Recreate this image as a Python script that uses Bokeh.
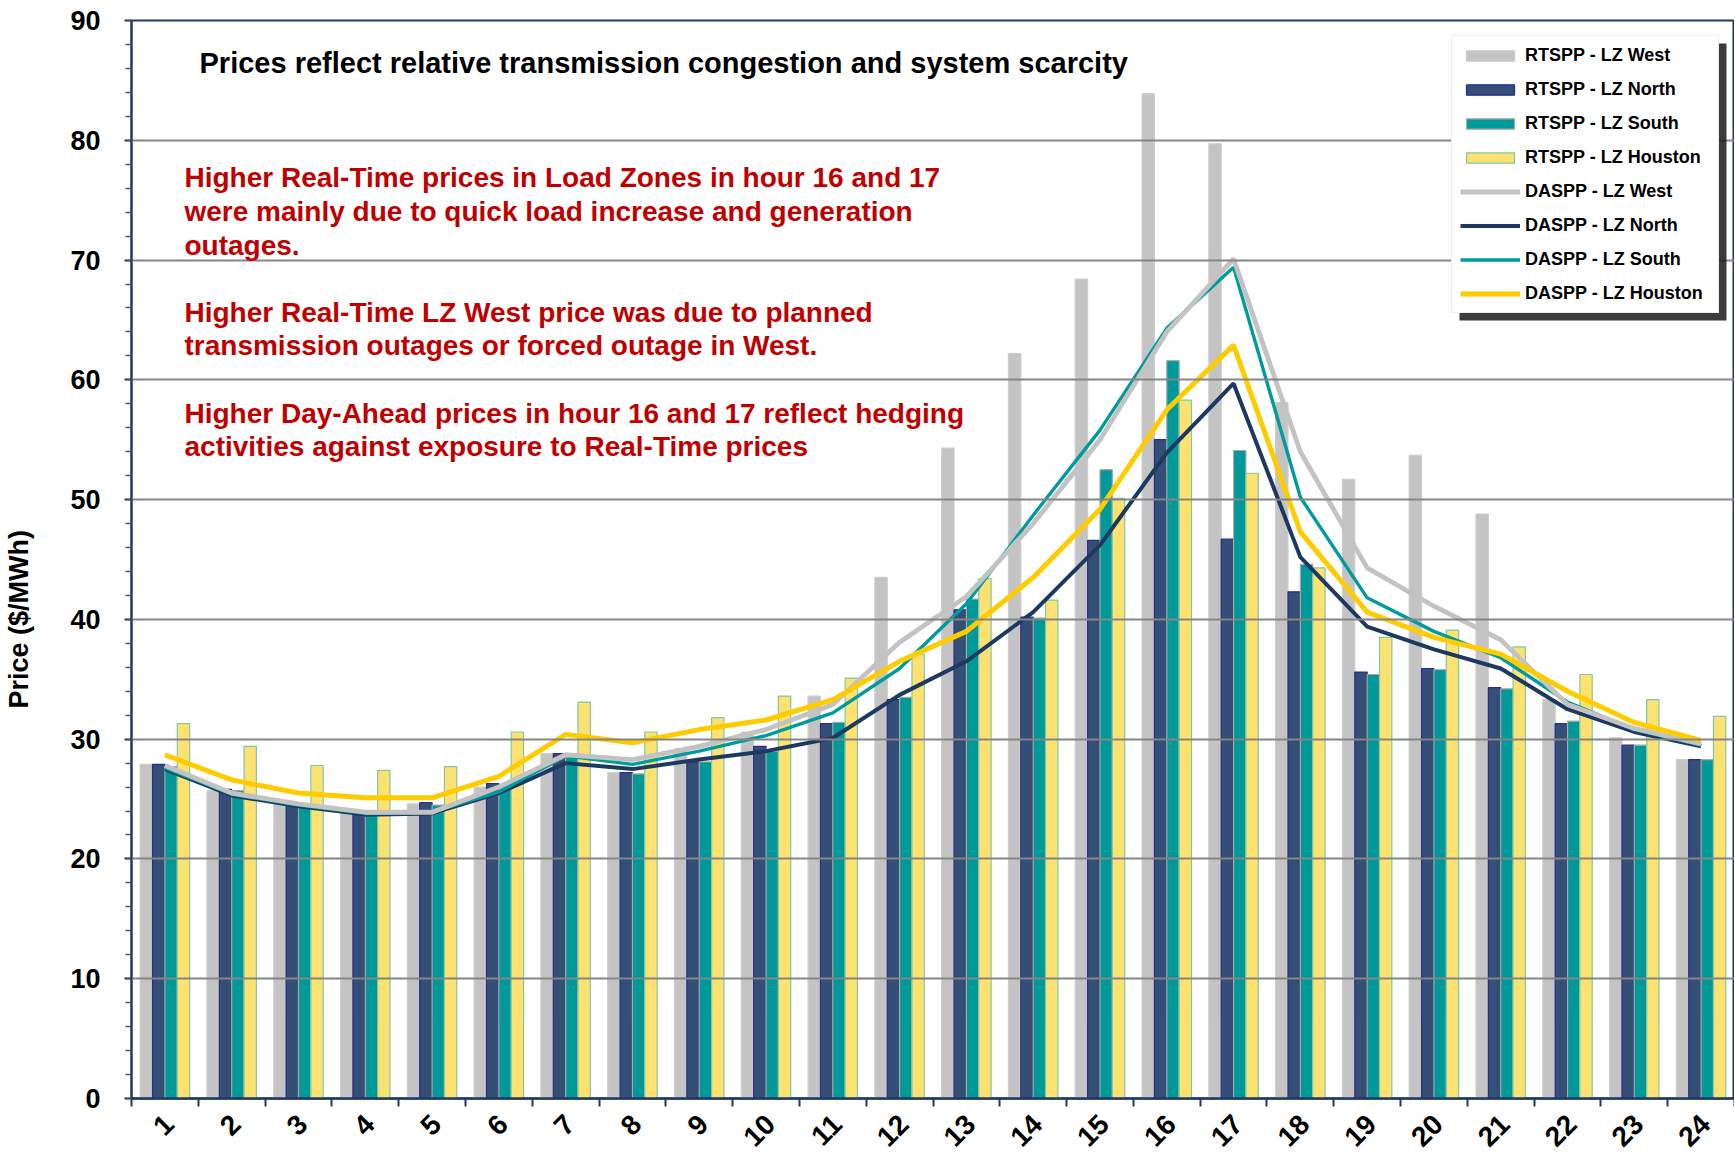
import math
from bokeh.plotting import figure
from bokeh.models import (Range1d, FixedTicker, Legend, LegendItem, Label, Title,
                          BoxAnnotation, ColumnDataSource, LinearAxis)
from bokeh.transform import dodge
from bokeh.embed import file_html
from bokeh.resources import INLINE

# ---------------- data ----------------
hours = list(range(1, 25))
hour_labels = [str(h) for h in hours]

rt_west = [27.9, 25.7, 24.6, 24.0, 24.6, 26.0, 28.8, 27.2, 29.2, 30.6, 33.6, 43.5,
           54.3, 62.2, 68.4, 83.9, 79.7, 58.1, 51.7, 53.7, 48.8, 33.3, 30.1, 28.3]
rt_north = [27.9, 25.8, 24.5, 23.7, 24.7, 26.3, 28.8, 27.2, 28.1, 29.4, 31.3, 33.3,
            40.8, 40.2, 46.6, 55.0, 46.7, 42.3, 35.6, 35.9, 34.3, 31.3, 29.5, 28.3]
rt_south = [27.7, 25.7, 24.3, 23.7, 24.5, 26.1, 28.7, 27.1, 28.1, 29.0, 31.4, 33.5,
            41.7, 40.1, 52.5, 61.6, 54.1, 44.6, 35.4, 35.8, 34.2, 31.5, 29.5, 28.3]
rt_houston = [31.3, 29.4, 27.8, 27.4, 27.7, 30.6, 33.1, 30.6, 31.8, 33.6, 35.1, 37.1,
              43.4, 41.6, 50.1, 58.3, 52.2, 44.3, 38.5, 39.1, 37.7, 35.4, 33.3, 31.9]
da_west = [27.8, 25.5, 24.6, 23.9, 23.9, 26.0, 28.7, 28.3, 29.4, 30.8, 32.9, 38.1,
           41.9, 48.0, 55.0, 64.0, 70.1, 54.0, 44.3, 41.1, 38.3, 32.9, 30.9, 29.6]
da_north = [27.5, 25.3, 24.4, 23.7, 23.8, 25.5, 28.0, 27.5, 28.3, 29.0, 30.1, 33.7,
            36.5, 40.6, 46.2, 53.9, 59.7, 45.2, 39.4, 37.5, 35.9, 32.5, 30.6, 29.4]
da_south = [27.6, 25.4, 24.5, 23.8, 23.9, 25.6, 28.6, 27.9, 29.0, 30.3, 32.2, 35.9,
            41.3, 48.7, 55.8, 64.3, 69.4, 50.2, 41.8, 39.0, 36.8, 33.1, 30.8, 29.5]
da_houston = [28.7, 26.6, 25.5, 25.1, 25.1, 26.9, 30.4, 29.7, 30.8, 31.6, 33.3, 36.5,
              39.0, 43.5, 49.2, 57.5, 62.9, 47.3, 40.6, 38.5, 37.1, 34.0, 31.4, 29.9]

y_ticks = [0, 10, 20, 30, 40, 50, 60, 70, 80, 90]

title_text = "Prices reflect relative transmission congestion and system scarcity"
y_title = "Price ($/MWh)"
notes = [
    ["Higher Real-Time prices in Load Zones in hour 16 and 17",
     "were mainly due to quick load increase and generation",
     "outages."],
    ["Higher Real-Time LZ West price was due to planned",
     "transmission outages or forced outage in West."],
    ["Higher Day-Ahead prices in hour 16 and 17 reflect  hedging",
     "activities against exposure to Real-Time prices"],
]

# ---------------- layout (page pixels) ----------------
FRAME_L, FRAME_T, FRAME_W, FRAME_H = 131, 20, 1603, 1078
BOTTOM = 56
X0, X1 = 0.5, 24.5
Y0, Y1 = 0, 90


def dx(px):
    return X0 + (px - FRAME_L) * (X1 - X0) / FRAME_W


def dy(py):
    return Y1 - (py - FRAME_T) * (Y1 - Y0) / FRAME_H


FONT = "Liberation Sans"

p = figure(frame_width=FRAME_W, frame_height=FRAME_H,
           x_range=Range1d(X0, X1), y_range=Range1d(Y0, Y1),
           output_backend="svg", toolbar_location=None,
           min_border_left=FRAME_L, min_border_top=FRAME_T,
           min_border_right=0, min_border_bottom=BOTTOM)
p.outline_line_color = "#1F3864"
p.outline_line_width = 2
p.background_fill_color = "white"
p.border_fill_color = "white"

src = ColumnDataSource(dict(hour=hours, label=hour_labels,
                            rt_west=rt_west, rt_north=rt_north,
                            rt_south=rt_south, rt_houston=rt_houston,
                            da_west=da_west, da_north=da_north,
                            da_south=da_south, da_houston=da_houston))

bw = 0.185
bar_specs = [
    ("rt_west", -1.5, "#C4C4C4", "#CDCDCD"),
    ("rt_north", -0.5, "#344F76", "#2D2A8E"),
    ("rt_south", 0.5, "#009999", "#A8A8A8"),
    ("rt_houston", 1.5, "#FDE271", "#7FC9A6"),
]
bar_r = {}
for col, off, fc, lc in bar_specs:
    bar_r[col] = p.vbar(x=dodge("hour", off * bw), top=col, bottom=0, width=bw,
                        source=src, fill_color=fc, line_color=lc, line_width=1.2,
                        level="underlay")

line_specs = [
    ("da_north", "#1D3962", 4),
    ("da_south", "#009B9B", 3.4),
    ("da_west", "#C3C3C3", 4.8),
    ("da_houston", "#FFCC00", 5),
]
line_r = {}
for col, c, w in line_specs:
    line_r[col] = p.line(x="hour", y=col, source=src, line_color=c, line_width=w)

# grid
p.xgrid.visible = False
p.ygrid.ticker = FixedTicker(ticks=y_ticks)
p.ygrid.grid_line_color = "#858585"
p.ygrid.grid_line_width = 2
p.ygrid.level = "glyph"

# y axis
ya = p.yaxis[0]
ya.ticker = FixedTicker(ticks=y_ticks, minor_ticks=list(range(0, 91, 2)))
ya.axis_line_color = "#1F3864"
ya.axis_line_width = 2
ya.major_tick_out = 7
ya.major_tick_in = 0
ya.major_tick_line_width = 2
ya.major_tick_line_color = "#333333"
ya.minor_tick_out = 6
ya.minor_tick_in = 0
ya.minor_tick_line_width = 1.5
ya.minor_tick_line_color = "#555555"
ya.major_label_text_font = FONT
ya.major_label_text_font_size = "27px"
ya.major_label_text_font_style = "bold"
ya.major_label_text_color = "black"
ya.major_label_standoff = 24

# invisible spacer axis (one hidden tick) between the tick labels and the y title
spacer = LinearAxis(ticker=FixedTicker(ticks=[y_ticks[0]]), axis_line_color=None,
                    major_tick_out=34, major_tick_in=0, minor_tick_out=0,
                    minor_tick_in=0, major_label_standoff=0,
                    major_tick_line_color=None, minor_tick_line_color=None,
                    major_label_overrides={y_ticks[0]: ""},
                    major_label_text_font_size="1px", major_label_text_alpha=0)
p.add_layout(spacer, "left")

# y title as a side title, placed along the frame
frame_bottom = FRAME_T + FRAME_H
p.add_layout(Title(text=y_title, align="left", offset=frame_bottom - 708,
                   text_font=FONT, text_font_size="27px", text_font_style="bold",
                   text_color="black", standoff=0), "left")

# x axis: tick marks at hour boundaries, labels rotated
shift = 0.0625
xa = p.xaxis[0]
xa.ticker = FixedTicker(ticks=[h + shift for h in hours],
                        minor_ticks=[h - 0.5 for h in hours] + [hours[-1] + 0.5])
xa.major_label_overrides = {h + shift: lab for h, lab in zip(hours, hour_labels)}
xa.axis_line_color = "#1F3864"
xa.axis_line_width = 2.5
xa.major_tick_out = 0
xa.major_tick_in = 0
xa.minor_tick_out = 8
xa.minor_tick_in = 0
xa.minor_tick_line_width = 2
xa.minor_tick_line_color = "#1F3864"
xa.major_label_orientation = math.pi / 4
xa.major_label_text_font = FONT
xa.major_label_text_font_size = "28px"
xa.major_label_text_font_style = "bold"
xa.major_label_text_color = "black"
xa.major_label_standoff = 13

# texts
p.add_layout(Label(x=dx(199), y=dy(62), text=title_text, text_baseline="middle",
                   text_align="left", text_font=FONT, text_font_size="29px",
                   text_font_style="bold", text_color="black"))
note_rows = [[177, 211, 245], [312, 345], [413, 446]]
for para, rows in zip(notes, note_rows):
    for line, py in zip(para, rows):
        p.add_layout(Label(x=dx(184), y=dy(py), text=line, text_baseline="middle",
                           text_align="left", text_font=FONT, text_font_size="28px",
                           text_font_style="bold", text_color="#C00000"))

# legend with shadow
LEG_M = 15
LEG_PAD, GW, GH, LW, LH, SP, STANDOFF = 8, 60, 13, 185, 22, 12, 5
leg_w = 2 * LEG_PAD + GW + STANDOFF + LW
leg_h = 2 * LEG_PAD + 8 * LH + 7 * SP
leg_right = FRAME_L + FRAME_W - LEG_M
leg_top = FRAME_T + LEG_M
p.add_layout(BoxAnnotation(left=dx(leg_right - leg_w + 6), right=dx(leg_right + 7),
                           top=dy(leg_top + 8), bottom=dy(leg_top + leg_h + 9),
                           fill_color="#1A1A1A", fill_alpha=0.85, line_color=None,
                           level="annotation"))

items = [
    LegendItem(label="RTSPP - LZ West", renderers=[bar_r["rt_west"]]),
    LegendItem(label="RTSPP - LZ North", renderers=[bar_r["rt_north"]]),
    LegendItem(label="RTSPP - LZ South", renderers=[bar_r["rt_south"]]),
    LegendItem(label="RTSPP - LZ Houston", renderers=[bar_r["rt_houston"]]),
    LegendItem(label="DASPP - LZ West", renderers=[line_r["da_west"]]),
    LegendItem(label="DASPP - LZ North", renderers=[line_r["da_north"]]),
    LegendItem(label="DASPP - LZ South", renderers=[line_r["da_south"]]),
    LegendItem(label="DASPP - LZ Houston", renderers=[line_r["da_houston"]]),
]
legend = Legend(items=items, location="top_right", margin=LEG_M,
                padding=LEG_PAD, spacing=SP, glyph_width=GW, glyph_height=GH,
                label_width=LW, label_height=LH, label_standoff=STANDOFF,
                label_text_font=FONT, label_text_font_size="18px",
                label_text_font_style="bold", label_text_color="black",
                border_line_color="#DDDDDD", background_fill_color="white",
                background_fill_alpha=1.0)
p.add_layout(legend, "center")

open("out.html", "w").write(file_html(p, INLINE))
